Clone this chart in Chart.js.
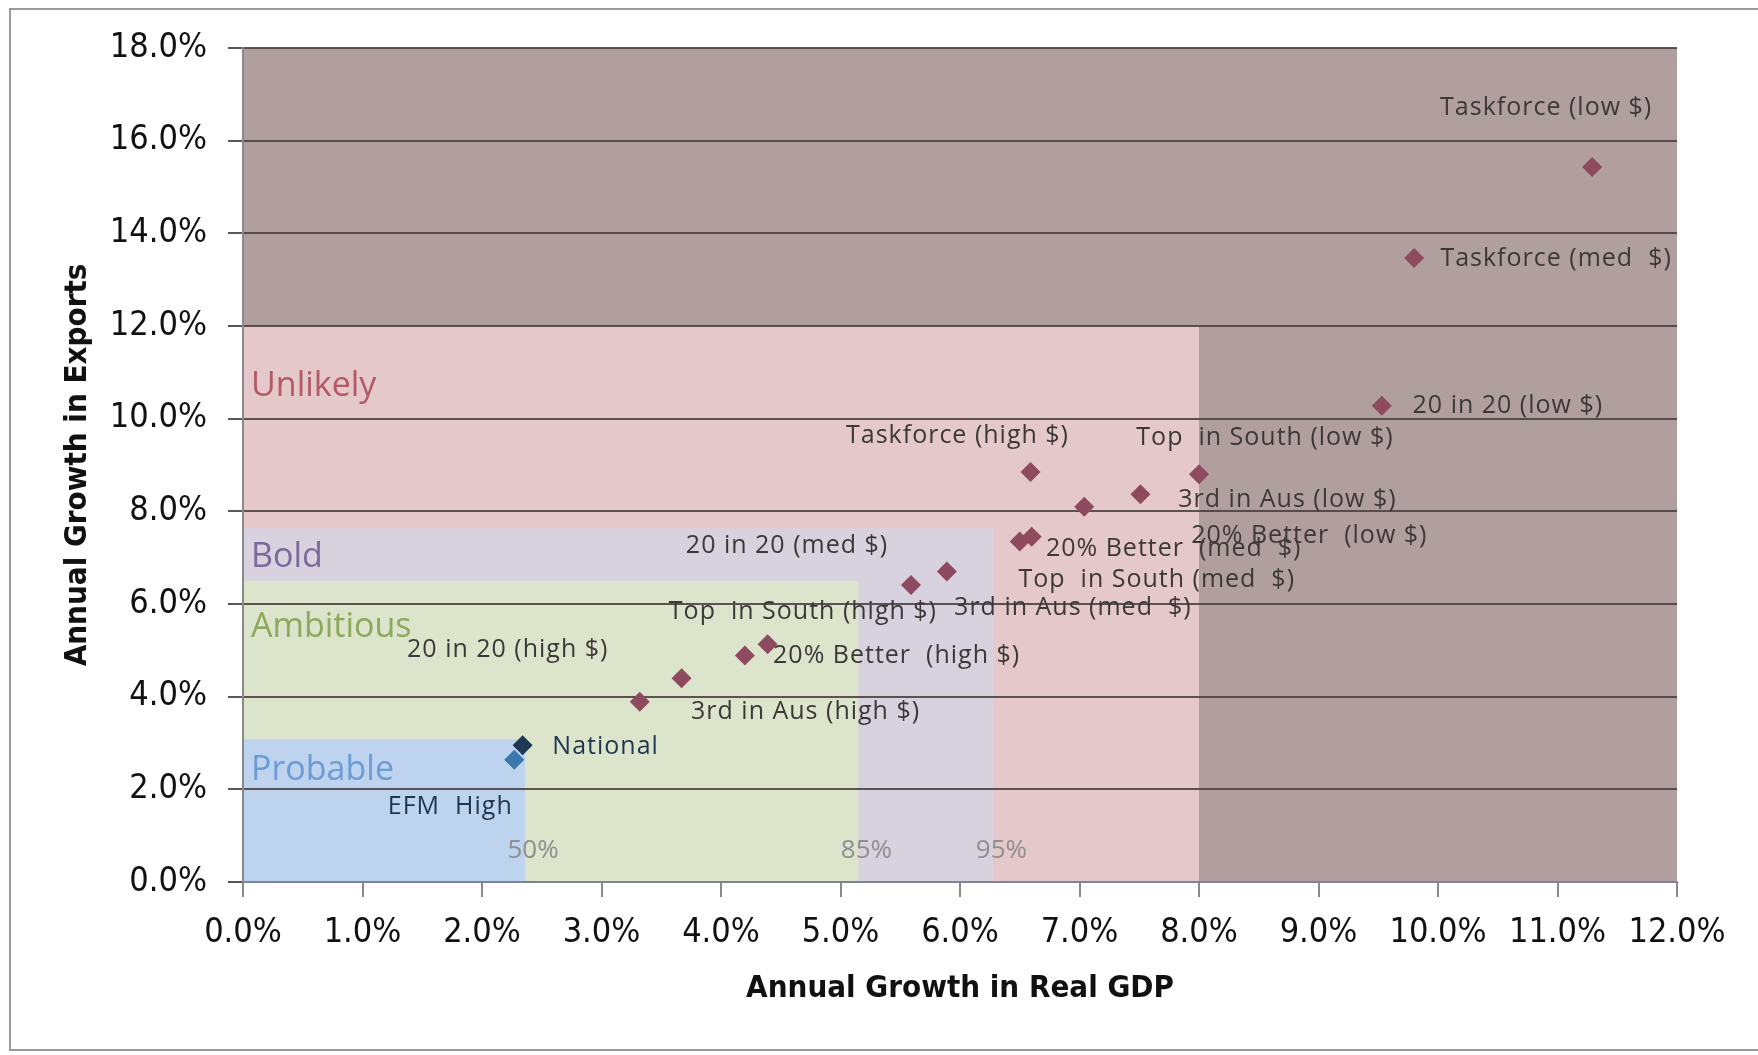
<!DOCTYPE html>
<html lang="en">
<head>
  <meta charset="UTF-8" />
  <title>Growth scenarios</title>
  <script src="https://cdn.jsdelivr.net/npm/chart.js"></script>
  <style>
    * { margin: 0; padding: 0; box-sizing: border-box; }
    body { background: #fff; width: 1758px; height: 1055px; overflow: hidden; position: relative; }
    .frame {
      position: absolute; left: 9px; top: 8px; width: 1800px; height: 1043px;
      border: 2px solid #9a9a9a;
    }
    .chart-box { position: absolute; left: 0; top: 0; width: 1758px; height: 1055px; }
  </style>
</head>
<body>
  <div class="frame"></div>
  <div class="chart-box"><canvas id="growthChart"></canvas></div>

  <script>
    // scenario points (annual % growth)
    const scenarioNames = [
      'Taskforce (low $)', 'Taskforce (med  $)', 'Taskforce (high $)',
      '20 in 20 (low $)', '20 in 20 (med $)', '20 in 20 (high $)',
      'Top  in South (low $)', 'Top  in South (med  $)', 'Top  in South (high $)',
      '3rd in Aus (low $)', '3rd in Aus (med  $)', '3rd in Aus (high $)',
      '20% Better  (low $)', '20% Better  (med  $)', '20% Better  (high $)'
    ];
    const scenarioGdp     = [11.29, 9.80, 6.59, 9.53, 5.59, 3.32, 8.00, 6.50, 4.20, 7.51, 5.89, 3.67, 7.04, 6.60, 4.39];
    const scenarioExports = [15.43, 13.47, 8.85, 10.28, 6.41, 3.89, 8.80, 7.35, 4.89, 8.37, 6.70, 4.40, 8.10, 7.45, 5.13];

    const baseNames   = ['EFM  High', 'National'];
    const baseGdp     = [2.27, 2.34];
    const baseExports = [2.64, 2.95];

    // zones, largest first (upper bounds on each axis)
    const zoneNames      = ['', 'Unlikely', 'Bold', 'Ambitious', 'Probable'];
    const zoneGdpMax     = [12, 8.0, 6.28, 5.15, 2.36];
    const zoneExportsMax = [18, 12, 7.63, 6.5, 3.08];
    const percentileLabels = ['50%', '85%', '95%'];
    const percentileAt     = [2.36, 5.15, 6.28];

    const xTickStep = 1, yTickStep = 2;

    // styles / label placement (px offsets from each point)
    const zoneColors = ['#b19e9f', '#e4c8ca', '#d8d1de', '#dde4cc', '#bdd3ee'];
    const zoneTextColors = ['', '#b35a66', '#7a6a9c', '#8ca95c', '#6d9bd6'];
    const zoneLabelAt = [0, 10.69, 7.01, 5.49, 2.42];
    const scenarioLabelOffsets = [
      [-46, -59], [142, 1], [-73, -36],
      [126, 0], [-124, -39], [-132, -52],
      [66, -36], [137, 38], [58, -44],
      [147, 6], [126, 36], [124, 34],
      [225, 29], [142, 12], [129, 12]
    ];
    const baseLabelOffsets = [[-64, 47], [83, 2]];

    const narrow = '"Liberation Sans Narrow", "DejaVu Sans Condensed", "Open Sans", sans-serif';
    const labelFont = '"Open Sans", "Noto Sans", sans-serif';

    const zonesPlugin = {
      id: 'zones',
      beforeDraw(chart) {
        const { ctx, scales: { x, y } } = chart;
        ctx.save();
        for (let i = 0; i < zoneNames.length; i++) {
          const x0 = x.getPixelForValue(0), x1 = x.getPixelForValue(zoneGdpMax[i]);
          const y0 = y.getPixelForValue(0), y1 = y.getPixelForValue(zoneExportsMax[i]);
          ctx.fillStyle = zoneColors[i];
          ctx.fillRect(x0, y1, x1 - x0, y0 - y1);
        }
        ctx.restore();
      },
      beforeDatasetsDraw(chart) {
        const { ctx, chartArea, scales: { x, y } } = chart;
        ctx.save();
        ctx.textBaseline = 'middle';
        ctx.textAlign = 'left';
        ctx.font = '34px ' + labelFont;
        for (let i = 1; i < zoneNames.length; i++) {
          ctx.fillStyle = zoneTextColors[i];
          ctx.fillText(zoneNames[i], chartArea.left + 8, y.getPixelForValue(zoneLabelAt[i]));
        }
        ctx.font = '26px ' + labelFont;
        ctx.fillStyle = '#8f8f8f';
        ctx.textAlign = 'center';
        percentileLabels.forEach((t, i) => {
          ctx.fillText(t, x.getPixelForValue(percentileAt[i]) + 8, y.getPixelForValue(0.67));
        });
        ctx.restore();
      },
      afterDatasetsDraw(chart) {
        const { ctx } = chart;
        ctx.save();
        ctx.textBaseline = 'middle';
        ctx.textAlign = 'center';
        ctx.font = '25px ' + labelFont;
        ctx.letterSpacing = '1px';
        const drawLabels = (idx, names, offsets, color) => {
          chart.getDatasetMeta(idx).data.forEach((pt, i) => {
            ctx.fillStyle = color;
            ctx.fillText(names[i], pt.x + offsets[i][0], pt.y + offsets[i][1]);
          });
        };
        drawLabels(0, scenarioNames, scenarioLabelOffsets, '#3d3838');
        drawLabels(1, baseNames, baseLabelOffsets, '#1f3650');
        ctx.restore();
      },
      afterDraw(chart) {
        const { ctx, chartArea } = chart;
        ctx.save();
        ctx.fillStyle = '#111';
        ctx.font = 'bold 31px ' + narrow;
        ctx.textAlign = 'center';
        ctx.textBaseline = 'middle';
        ctx.fillText('Annual Growth in Real GDP', (chartArea.left + chartArea.right) / 2, 989);
        ctx.translate(78, (chartArea.top + chartArea.bottom) / 2);
        ctx.rotate(-Math.PI / 2);
        ctx.fillText('Annual Growth in Exports', 0, 0);
        ctx.restore();
      }
    };

    const pct = v => v.toFixed(1) + '%';

    new Chart(document.getElementById('growthChart'), {
      type: 'scatter',
      data: {
        datasets: [
          {
            data: scenarioGdp.map((g, i) => ({ x: g, y: scenarioExports[i] })),
            pointStyle: 'rectRot',
            pointRadius: 10,
            backgroundColor: '#8e4a5e',
            borderWidth: 0
          },
          {
            data: baseGdp.map((g, i) => ({ x: g, y: baseExports[i] })),
            pointStyle: 'rectRot',
            pointRadius: 10,
            backgroundColor: ['#3a78ad', '#1d3955'],
            borderWidth: 0
          }
        ]
      },
      options: {
        responsive: true,
        maintainAspectRatio: false,
        animation: false,
        layout: { padding: { top: 48, right: 81, left: 0, bottom: 0 } },
        plugins: { legend: { display: false }, tooltip: { enabled: false } },
        scales: {
          x: {
            min: 0, max: 12,
            afterFit: s => { s.height = 173; },
            ticks: {
              stepSize: xTickStep, callback: pct, padding: 16,
              color: '#111', font: { family: narrow, size: 34 }
            },
            grid: { drawOnChartArea: false, color: '#8a8a8a', lineWidth: 2, tickLength: 15 },
            border: { color: '#7d8594', width: 2 }
          },
          y: {
            min: 0, max: 18,
            afterFit: s => { s.width = 243; },
            ticks: {
              stepSize: yTickStep, callback: pct, padding: 21,
              color: '#111', font: { family: narrow, size: 34 }
            },
            grid: { color: 'rgba(78,66,68,0.9)', lineWidth: 2, tickLength: 15 },
            border: { color: '#8a8a8a', width: 2 }
          }
        }
      },
      plugins: [zonesPlugin]
    });
  </script>
</body>
</html>
